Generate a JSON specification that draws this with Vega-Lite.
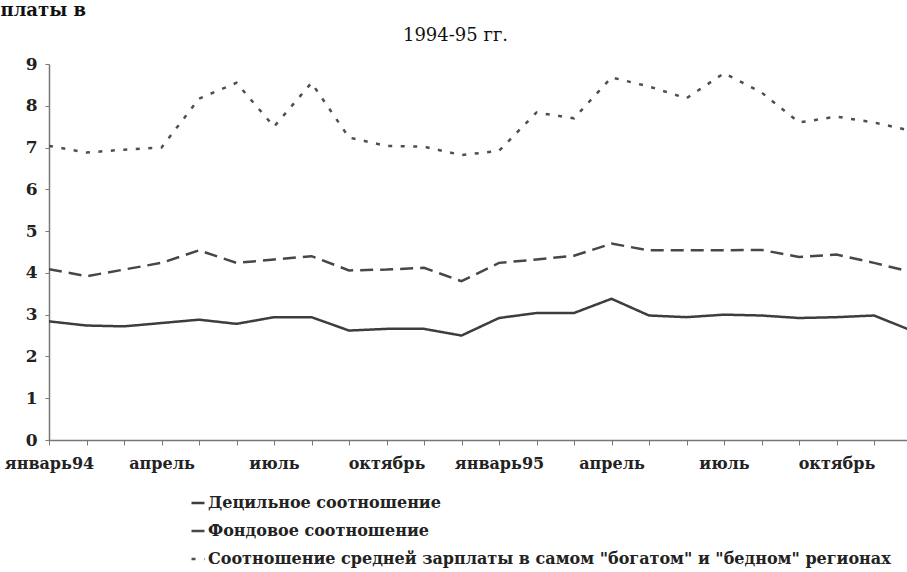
{
  "$schema": "https://vega.github.io/schema/vega-lite/v6.json",
  "autosize": {"type": "none"},
  "padding": {"left": 49, "top": 64, "right": 0, "bottom": 132},
  "width": 858,
  "height": 376,
  "background": "white",
  "config": {"view": {"stroke": null}},
  "data": {
    "values": [
      {"m": 0, "s": "Децильное соотношение", "v": 2.84},
      {"m": 1, "s": "Децильное соотношение", "v": 2.74},
      {"m": 2, "s": "Децильное соотношение", "v": 2.72},
      {"m": 3, "s": "Децильное соотношение", "v": 2.80},
      {"m": 4, "s": "Децильное соотношение", "v": 2.88},
      {"m": 5, "s": "Децильное соотношение", "v": 2.78},
      {"m": 6, "s": "Децильное соотношение", "v": 2.94},
      {"m": 7, "s": "Децильное соотношение", "v": 2.94},
      {"m": 8, "s": "Децильное соотношение", "v": 2.62},
      {"m": 9, "s": "Децильное соотношение", "v": 2.66},
      {"m": 10, "s": "Децильное соотношение", "v": 2.66},
      {"m": 11, "s": "Децильное соотношение", "v": 2.50},
      {"m": 12, "s": "Децильное соотношение", "v": 2.92},
      {"m": 13, "s": "Децильное соотношение", "v": 3.04},
      {"m": 14, "s": "Децильное соотношение", "v": 3.04},
      {"m": 15, "s": "Децильное соотношение", "v": 3.38},
      {"m": 16, "s": "Децильное соотношение", "v": 2.98},
      {"m": 17, "s": "Децильное соотношение", "v": 2.94},
      {"m": 18, "s": "Децильное соотношение", "v": 3.00},
      {"m": 19, "s": "Децильное соотношение", "v": 2.98},
      {"m": 20, "s": "Децильное соотношение", "v": 2.92},
      {"m": 21, "s": "Децильное соотношение", "v": 2.94},
      {"m": 22, "s": "Децильное соотношение", "v": 2.98},
      {"m": 23, "s": "Децильное соотношение", "v": 2.62},
      {"m": 0, "s": "Фондовое соотношение", "v": 4.09},
      {"m": 1, "s": "Фондовое соотношение", "v": 3.92},
      {"m": 2, "s": "Фондовое соотношение", "v": 4.08},
      {"m": 3, "s": "Фондовое соотношение", "v": 4.24},
      {"m": 4, "s": "Фондовое соотношение", "v": 4.54},
      {"m": 5, "s": "Фондовое соотношение", "v": 4.24},
      {"m": 6, "s": "Фондовое соотношение", "v": 4.32},
      {"m": 7, "s": "Фондовое соотношение", "v": 4.40},
      {"m": 8, "s": "Фондовое соотношение", "v": 4.06},
      {"m": 9, "s": "Фондовое соотношение", "v": 4.08},
      {"m": 10, "s": "Фондовое соотношение", "v": 4.12},
      {"m": 11, "s": "Фондовое соотношение", "v": 3.80},
      {"m": 12, "s": "Фондовое соотношение", "v": 4.24},
      {"m": 13, "s": "Фондовое соотношение", "v": 4.32},
      {"m": 14, "s": "Фондовое соотношение", "v": 4.41},
      {"m": 15, "s": "Фондовое соотношение", "v": 4.70},
      {"m": 16, "s": "Фондовое соотношение", "v": 4.54},
      {"m": 17, "s": "Фондовое соотношение", "v": 4.54},
      {"m": 18, "s": "Фондовое соотношение", "v": 4.54},
      {"m": 19, "s": "Фондовое соотношение", "v": 4.55},
      {"m": 20, "s": "Фондовое соотношение", "v": 4.38},
      {"m": 21, "s": "Фондовое соотношение", "v": 4.44},
      {"m": 22, "s": "Фондовое соотношение", "v": 4.24},
      {"m": 23, "s": "Фондовое соотношение", "v": 4.02},
      {"m": 0, "s": "Соотношение средней зарплаты в самом \"богатом\" и \"бедном\" регионах", "v": 7.04},
      {"m": 1, "s": "Соотношение средней зарплаты в самом \"богатом\" и \"бедном\" регионах", "v": 6.88},
      {"m": 2, "s": "Соотношение средней зарплаты в самом \"богатом\" и \"бедном\" регионах", "v": 6.95},
      {"m": 3, "s": "Соотношение средней зарплаты в самом \"богатом\" и \"бедном\" регионах", "v": 7.00},
      {"m": 4, "s": "Соотношение средней зарплаты в самом \"богатом\" и \"бедном\" регионах", "v": 8.17},
      {"m": 5, "s": "Соотношение средней зарплаты в самом \"богатом\" и \"бедном\" регионах", "v": 8.55},
      {"m": 6, "s": "Соотношение средней зарплаты в самом \"богатом\" и \"бедном\" регионах", "v": 7.50},
      {"m": 7, "s": "Соотношение средней зарплаты в самом \"богатом\" и \"бедном\" регионах", "v": 8.55},
      {"m": 8, "s": "Соотношение средней зарплаты в самом \"богатом\" и \"бедном\" регионах", "v": 7.24},
      {"m": 9, "s": "Соотношение средней зарплаты в самом \"богатом\" и \"бедном\" регионах", "v": 7.04},
      {"m": 10, "s": "Соотношение средней зарплаты в самом \"богатом\" и \"бедном\" регионах", "v": 7.02},
      {"m": 11, "s": "Соотношение средней зарплаты в самом \"богатом\" и \"бедном\" регионах", "v": 6.82},
      {"m": 12, "s": "Соотношение средней зарплаты в самом \"богатом\" и \"бедном\" регионах", "v": 6.92},
      {"m": 13, "s": "Соотношение средней зарплаты в самом \"богатом\" и \"бедном\" регионах", "v": 7.84},
      {"m": 14, "s": "Соотношение средней зарплаты в самом \"богатом\" и \"бедном\" регионах", "v": 7.70},
      {"m": 15, "s": "Соотношение средней зарплаты в самом \"богатом\" и \"бедном\" регионах", "v": 8.68},
      {"m": 16, "s": "Соотношение средней зарплаты в самом \"богатом\" и \"бедном\" регионах", "v": 8.46},
      {"m": 17, "s": "Соотношение средней зарплаты в самом \"богатом\" и \"бедном\" регионах", "v": 8.18},
      {"m": 18, "s": "Соотношение средней зарплаты в самом \"богатом\" и \"бедном\" регионах", "v": 8.78},
      {"m": 19, "s": "Соотношение средней зарплаты в самом \"богатом\" и \"бедном\" регионах", "v": 8.32},
      {"m": 20, "s": "Соотношение средней зарплаты в самом \"богатом\" и \"бедном\" регионах", "v": 7.60},
      {"m": 21, "s": "Соотношение средней зарплаты в самом \"богатом\" и \"бедном\" регионах", "v": 7.74},
      {"m": 22, "s": "Соотношение средней зарплаты в самом \"богатом\" и \"бедном\" регионах", "v": 7.60},
      {"m": 23, "s": "Соотношение средней зарплаты в самом \"богатом\" и \"бедном\" регионах", "v": 7.40}
    ]
  },
  "mark": {"type": "line", "clip": true, "strokeWidth": 2.5},
  "encoding": {
    "x": {
      "field": "m",
      "type": "quantitative",
      "scale": {"domain": [0, 22.88], "nice": false, "zero": false},
      "axis": {
        "values": [0, 1, 2, 3, 4, 5, 6, 7, 8, 9, 10, 11, 12, 13, 14, 15, 16, 17, 18, 19, 20, 21, 22],
        "labelExpr": "datum.value==0?'январь94':datum.value==3?'апрель':datum.value==6?'июль':datum.value==9?'октябрь':datum.value==12?'январь95':datum.value==15?'апрель':datum.value==18?'июль':datum.value==21?'октябрь':''",
        "grid": false,
        "tickSize": 5,
        "labelPadding": 10,
        "labelFont": "DejaVu Serif",
        "labelFontSize": 16,
        "labelFontWeight": "bold",
        "labelColor": "#222222",
        "labelOverlap": false,
        "labelFlush": false,
        "domainColor": "#777777",
        "domainWidth": 1.5,
        "tickColor": "#777777",
        "title": "1994-95 гг.",
        "titleX": 406,
        "titleY": -400,
        "titleAlign": "center",
        "titleBaseline": "alphabetic",
        "titleFont": "DejaVu Serif",
        "titleFontSize": 18,
        "titleFontWeight": "normal",
        "titleColor": "#111111"
      }
    },
    "y": {
      "field": "v",
      "type": "quantitative",
      "scale": {"domain": [0, 9], "nice": false},
      "axis": {
        "values": [0, 1, 2, 3, 4, 5, 6, 7, 8, 9],
        "grid": false,
        "tickSize": 4,
        "labelPadding": 8,
        "labelFont": "DejaVu Serif",
        "labelFontSize": 17,
        "labelFontWeight": "bold",
        "labelColor": "#222222",
        "domainColor": "#777777",
        "domainWidth": 1.5,
        "tickColor": "#777777",
        "title": "платы в",
        "titleX": -49,
        "titleY": -63,
        "titleAngle": 0,
        "titleAlign": "left",
        "titleBaseline": "top",
        "titleFont": "DejaVu Serif",
        "titleFontSize": 18,
        "titleFontWeight": "bold",
        "titleColor": "#111111"
      }
    },
    "color": {
      "field": "s",
      "type": "nominal",
      "scale": {
        "domain": ["Децильное соотношение", "Фондовое соотношение", "Соотношение средней зарплаты в самом \"богатом\" и \"бедном\" регионах"],
        "range": ["#3d3d3d", "#474747", "#4f4f4f"]
      },
      "legend": {
        "orient": "none",
        "legendX": 141,
        "legendY": 431,
        "title": null,
        "labelFont": "DejaVu Serif",
        "labelFontSize": 16,
        "labelFontWeight": "bold",
        "labelColor": "#222222",
        "labelLimit": 0,
        "labelOffset": 2,
        "symbolType": "stroke",
        "symbolSize": 169,
        "symbolStrokeWidth": 2.5,
        "rowPadding": 12
      }
    },
    "strokeDash": {
      "field": "s",
      "type": "nominal",
      "scale": {
        "domain": ["Децильное соотношение", "Фондовое соотношение", "Соотношение средней зарплаты в самом \"богатом\" и \"бедном\" регионах"],
        "range": [[1, 0], [13, 7], [4, 8.5]]
      },
      "legend": {
        "orient": "none",
        "legendX": 141,
        "legendY": 431,
        "title": null,
        "labelFont": "DejaVu Serif",
        "labelFontSize": 16,
        "labelFontWeight": "bold",
        "labelColor": "#222222",
        "labelLimit": 0,
        "labelOffset": 2,
        "symbolType": "stroke",
        "symbolSize": 169,
        "symbolStrokeWidth": 2.5,
        "rowPadding": 12
      }
    }
  }
}
